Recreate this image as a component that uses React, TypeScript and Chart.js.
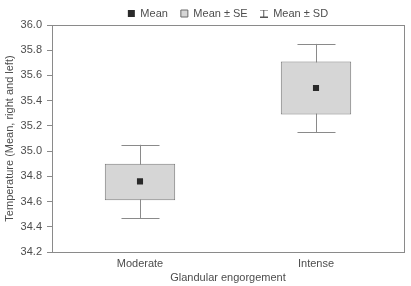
import React, { useEffect, useRef } from "react";
import { Chart, registerables } from "chart.js";

Chart.register(...registerables);

const categories = ["Moderate", "Intense"];
const means = [34.76, 35.5];
const seLow = [34.61, 35.29];
const seHigh = [34.9, 35.71];
const sdLow = [34.47, 35.15];
const sdHigh = [35.05, 35.85];
const yTicks = [34.2, 34.4, 34.6, 34.8, 35.0, 35.2, 35.4, 35.6, 35.8, 36.0];

const FONT = "'Liberation Sans', Arial, sans-serif";
const TEXT = "#4d4d4d";
const LINE = "#8a8a8a";

function makeIBeam(): HTMLCanvasElement {
  const c = document.createElement("canvas");
  c.width = 8;
  c.height = 8;
  const g = c.getContext("2d")!;
  g.strokeStyle = "#555";
  g.lineWidth = 1;
  g.beginPath();
  g.moveTo(0, 0.5);
  g.lineTo(8, 0.5);
  g.moveTo(3.5, 0.5);
  g.lineTo(3.5, 7.5);
  g.moveTo(0, 7.5);
  g.lineTo(8, 7.5);
  g.stroke();
  return c;
}

const whiskerPlugin = {
  id: "whiskers",
  beforeDatasetsDraw(chart: any) {
    const ctx = chart.ctx;
    const y = chart.scales.y;
    const meta = chart.getDatasetMeta(0);
    ctx.save();
    ctx.strokeStyle = LINE;
    ctx.lineWidth = 1;
    meta.data.forEach((bar: any, i: number) => {
      const x = Math.round(bar.x) + 0.5;
      const top = y.getPixelForValue(sdHigh[i]);
      const bot = y.getPixelForValue(sdLow[i]);
      const half = bar.width * 0.27;
      ctx.beginPath();
      ctx.moveTo(x, top);
      ctx.lineTo(x, bot);
      ctx.moveTo(x - half, Math.round(top) + 0.5);
      ctx.lineTo(x + half, Math.round(top) + 0.5);
      ctx.moveTo(x - half, Math.round(bot) + 0.5);
      ctx.lineTo(x + half, Math.round(bot) + 0.5);
      ctx.stroke();
    });
    ctx.restore();
  },
  afterDraw(chart: any) {
    const { ctx, chartArea } = chart;
    ctx.save();
    ctx.strokeStyle = LINE;
    ctx.lineWidth = 1;
    ctx.strokeRect(
      Math.round(chartArea.left) + 0.5,
      Math.round(chartArea.top) + 0.5,
      Math.round(chartArea.right - chartArea.left),
      Math.round(chartArea.bottom - chartArea.top)
    );
    ctx.restore();
  },
};

export default function App() {
  const ref = useRef<HTMLCanvasElement>(null);
  useEffect(() => {
    document.body.style.margin = "0";
    const ibeam = makeIBeam();
    const chart = new Chart(ref.current!, {
      type: "bar",
      data: {
        labels: categories,
        datasets: [
          {
            label: "Mean ± SE",
            data: categories.map((_, i) => [seLow[i], seHigh[i]]) as any,
            backgroundColor: "#d6d6d6",
            borderColor: "#7a7a7a",
            borderWidth: 1,
            borderSkipped: false,
            barPercentage: 0.4,
            categoryPercentage: 1,
            order: 2,
          },
          {
            type: "line",
            label: "Mean",
            data: means,
            showLine: false,
            pointStyle: "rect",
            pointRadius: 4.3,
            backgroundColor: "#2a2a2a",
            borderColor: "#2a2a2a",
            borderWidth: 0,
            order: 1,
          } as any,
        ],
      },
      options: {
        animation: false,
        responsive: false,
        events: [],
        layout: { padding: { top: -5, right: 7, bottom: 0, left: 0 } },
        plugins: {
          tooltip: { enabled: false },
          legend: {
            display: true,
            position: "top",
            fullSize: false,
            padding: 0,
            maxHeight: 30,
            labels: {
              usePointStyle: true,
              boxWidth: 7,
              boxHeight: 7,
              padding: 13,
              color: TEXT,
              font: { family: FONT, size: 11 },
              generateLabels: () => [
                {
                  text: "Mean",
                  fillStyle: "#2a2a2a",
                  strokeStyle: "#2a2a2a",
                  lineWidth: 0,
                  pointStyle: "rect",
                  fontColor: TEXT,
                  hidden: false,
                },
                {
                  text: "Mean ± SE",
                  fillStyle: "#d6d6d6",
                  strokeStyle: "#6a6a6a",
                  lineWidth: 1,
                  pointStyle: "rect",
                  fontColor: TEXT,
                  hidden: false,
                },
                {
                  text: "Mean ± SD",
                  fillStyle: "#fff",
                  strokeStyle: "#555",
                  lineWidth: 0,
                  pointStyle: ibeam,
                  fontColor: TEXT,
                  hidden: false,
                },
              ] as any,
            },
          },
        },
        scales: {
          x: {
            grid: { display: false, drawTicks: false },
            border: { display: false },
            afterFit: (scale: any) => {
              scale.height = 34;
            },
            ticks: { color: TEXT, font: { family: FONT, size: 11 }, padding: 5 },
            title: {
              display: true,
              text: "Glandular engorgement",
              color: TEXT,
              font: { family: FONT, size: 11 },
              padding: { top: 2, bottom: 1.5 },
            },
          },
          y: {
            min: 34.2,
            max: 36.0,
            afterBuildTicks: (scale: any) => {
              scale.ticks = yTicks.map((v) => ({ value: v }));
            },
            afterFit: (scale: any) => {
              scale.width = 52;
            },
            grid: {
              display: true,
              drawOnChartArea: false,
              drawTicks: true,
              tickLength: 5,
              color: LINE,
            },
            border: { display: false },
            ticks: {
              color: TEXT,
              font: { family: FONT, size: 11 },
              padding: 5,
              callback: (v: any) => Number(v).toFixed(1),
            },
            title: {
              display: true,
              text: "Temperature (Mean, right and left)",
              color: TEXT,
              font: { family: FONT, size: 11 },
              padding: { top: 3.5, bottom: 0 },
            },
          },
        },
      },
      plugins: [whiskerPlugin],
    });
    return () => chart.destroy();
  }, []);
  return (
    <div style={{ width: 411, height: 286 }}>
      <canvas ref={ref} width={411} height={286} />
    </div>
  );
}
